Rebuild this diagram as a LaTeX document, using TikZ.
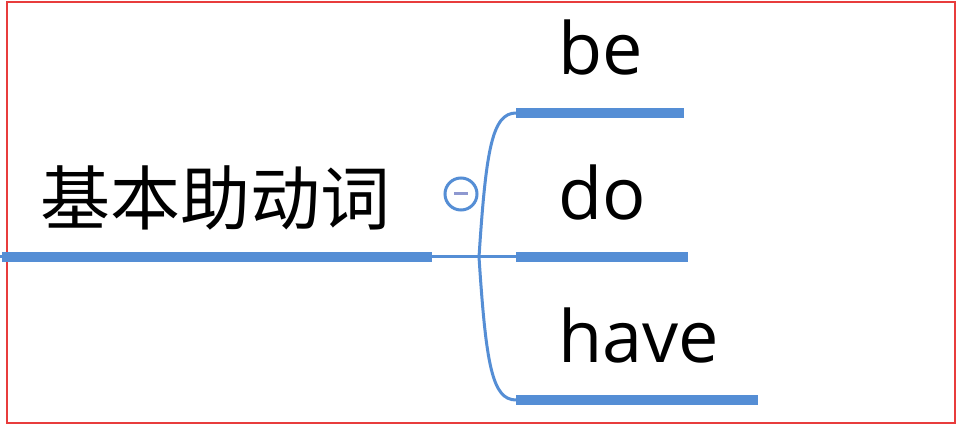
\documentclass[tikz,border=0pt]{standalone}
\usepackage{fontspec}
\setmainfont{Open Sans}
\newfontfamily\cjk{Noto Sans CJK SC}
\definecolor{branchblue}{RGB}{85,142,213}
\definecolor{frame}{RGB}{232,60,60}
\definecolor{minuscol}{RGB}{142,152,208}
\begin{document}
\begin{tikzpicture}[x=1pt,y=-1pt,
  bar/.style={draw=branchblue,line width=10pt},
  thin/.style={draw=branchblue,line width=3pt},
  label/.style={anchor=base west,inner sep=0pt,font=\fontsize{72}{76}\selectfont},
  rootlabel/.style={anchor=base west,inner sep=0pt,font=\cjk\fontsize{70}{74}\selectfont}]
\useasboundingbox (0,0) rectangle (961,430);
\fill[white] (0,0) rectangle (961,430);
\draw[frame,line width=1.3pt] (7,2) rectangle (955,423);
% coordinates
\coordinate (rootstart) at (0,257);
\coordinate (barstart) at (2,257);
\coordinate (rootend) at (432,257);
\coordinate (junction) at (479,257);
\coordinate (bestart) at (516,113);
\coordinate (beend) at (684,113);
\coordinate (dostart) at (516,257);
\coordinate (doend) at (688,257);
\coordinate (havestart) at (516,400);
\coordinate (haveend) at (758,400);
% labels
\node[rootlabel] (root) at (40,225) {基本助动词};
\node[label] (be) at (558,75) {be};
\node[label] (do) at (558,220) {do};
\node[label] (have) at (558,362) {have};
% connectors
\draw[thin] (rootstart) -- (dostart);
\draw[bar] (barstart) -- (rootend);
\draw[thin] (junction) .. controls (486,150) and (492,113) .. (bestart);
\draw[thin] (junction) .. controls (486,364) and (492,400) .. (havestart);
\draw[bar] (bestart) -- (beend);
\draw[bar] (dostart) -- (doend);
\draw[bar] (havestart) -- (haveend);
% collapse button
\node[circle,draw=branchblue,line width=3pt,fill=white,minimum size=32pt,inner sep=0pt] (toggle) at (461,194) {};
\draw[minuscol,line width=3pt] ([xshift=-7pt]toggle.center) -- ([xshift=7pt]toggle.center);
\end{tikzpicture}
\end{document}
